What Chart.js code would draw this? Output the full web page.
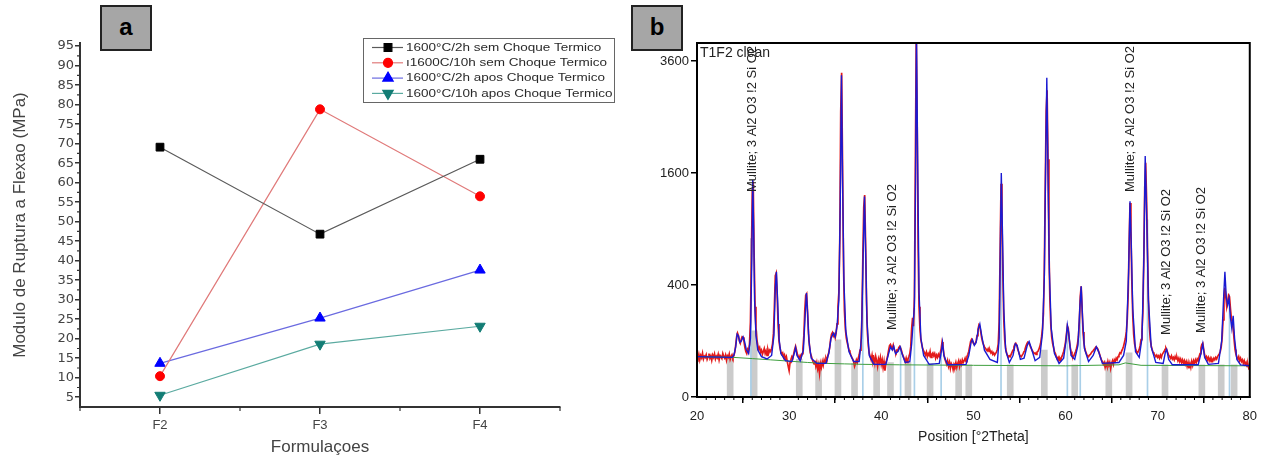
<!DOCTYPE html>
<html>
<head>
<meta charset="utf-8">
<script src="https://cdn.jsdelivr.net/npm/chart.js@4.4.1/dist/chart.umd.min.js"></script>
<style>
  html, body { margin: 0; padding: 0; background: #fff; }
  #page { position: relative; width: 1263px; height: 459px; overflow: hidden; background: #fff; }
  .panel { position: absolute; top: 0; height: 459px; }
  #panel-a { left: 0; width: 630px; }
  #panel-b { left: 630px; width: 633px; }
  .tag {
    position: absolute; top: 5px; width: 48px; height: 42px;
    background: #a6a6a6; border: 2px solid #222; color: #000;
    font: bold 24px 'Liberation Sans', Arial, sans-serif;
    text-align: center; line-height: 40px;
  }
  #tag-a { left: 100px; }
  #tag-b { left: 631px; }
</style>
</head>
<body>
<div id="page">
  <div class="panel" id="panel-a"><canvas id="chart-a"></canvas></div>
  <div class="panel" id="panel-b"><canvas id="chart-b"></canvas></div>
  <div class="tag" id="tag-a">a</div>
  <div class="tag" id="tag-b">b</div>
</div>
<script>
/* ---------- panel a : flexural strength per formulation ---------- */
const formulacoes = ['F2', 'F3', 'F4'];
const sem2h = [69.1, 46.8, 66.0];
const sem10h = [10.4, 78.8, 56.5];
const apos2h = [13.7, 25.3, 37.6];
const apos10h = [5.5, 18.6, 23.2];
const yTicksA = [5, 10, 15, 20, 25, 30, 35, 40, 45, 50, 55, 60, 65, 70, 75, 80, 85, 90, 95];
const yMinorA = [7.5, 12.5, 17.5, 22.5, 27.5, 32.5, 37.5, 42.5, 47.5, 52.5, 57.5, 62.5, 67.5, 72.5, 77.5, 82.5, 87.5, 92.5];
const xMinorA = [-0.5, 0.5, 1.5, 2.5];
const seriesNamesA = [
    '1600°C/2h sem Choque Termico',
    'ı1600C/10h sem Choque Termico',
    '1600°C/2h apos Choque Termico',
    '1600°C/10h apos Choque Termico'
];

/* ---------- panel b : XRD pattern, T1F2 clean ---------- */
// observed counts, 20.0 .. 80.0 °2Theta in 0.1° steps (one row per degree)
const obsStart = 20;
const obsStep = 0.1;
const obsCounts = [
    52,47,58,44,55,49,61,46,53,50,
    57,45,51,60,48,54,43,56,50,59,
    46,53,49,58,44,55,51,47,60,52,
    48,56,43,54,50,59,45,52,57,49,
    55,64,85,115,130,120,100,92,105,116,
    114,98,78,66,60,72,66,90,180,600,
    1350,1480,650,260,150,105,85,72,78,64,
    70,58,66,75,60,68,55,72,62,70,
    66,75,90,130,260,470,490,330,170,100,
    78,66,58,62,50,56,46,52,40,30,
    22,38,45,52,48,60,72,82,70,58,
    52,48,55,50,60,75,120,240,330,340,
    230,130,85,62,54,46,40,35,42,30,
    38,25,33,18,36,28,40,32,44,38,
    48,42,55,62,78,105,125,132,118,125,
    112,130,170,260,350,800,2600,3350,1700,560,
    240,150,112,95,82,70,64,56,50,46,
    40,30,36,44,38,48,56,70,95,200,
    620,1150,1300,750,290,130,82,60,52,44,
    56,40,48,36,52,42,30,46,38,50,
    34,44,28,40,22,36,45,55,70,84,
    88,80,76,86,72,66,62,70,68,78,
    82,76,68,58,52,46,40,48,38,46,
    52,60,80,150,200,160,320,1700,4200,2400,
    720,260,145,105,88,74,68,62,56,64,
    52,60,55,66,50,58,62,54,60,48,
    56,50,58,52,62,74,96,82,58,46,
    40,34,42,30,38,26,36,32,24,34,
    30,38,28,36,42,30,40,34,44,38,
    42,48,40,52,58,66,82,98,106,100,
    92,88,92,100,120,145,165,158,135,112,
    96,88,80,76,72,68,74,66,70,62,
    66,58,62,56,60,64,72,90,180,650,
    1450,1000,480,190,105,75,62,55,50,54,
    52,58,64,70,80,88,92,86,74,66,
    58,54,52,56,60,66,72,82,90,96,
    94,88,80,74,68,64,60,62,58,64,
    66,72,80,92,115,150,220,520,1400,2600,
    3000,1800,720,310,170,115,92,78,66,60,
    52,46,50,42,48,44,52,58,66,78,
    96,125,160,150,105,80,66,56,50,54,
    60,66,76,90,115,180,320,390,250,135,
    92,74,64,58,54,52,56,58,62,66,
    68,72,76,80,78,74,66,58,50,44,
    40,34,38,28,36,30,40,32,38,26,
    36,42,34,44,40,48,44,52,56,62,
    60,68,74,82,95,110,135,190,330,720,
    1200,880,420,210,125,90,76,66,62,66,
    72,84,105,140,230,620,1400,1750,1250,680,
    300,160,105,84,72,64,60,56,52,56,
    50,54,48,56,50,58,62,66,72,76,
    70,62,56,52,48,54,46,50,44,52,
    46,50,42,48,40,46,38,44,36,42,
    34,40,30,38,26,36,28,40,32,42,
    36,44,38,46,42,52,60,76,88,92,
    72,56,48,52,44,50,42,48,40,46,
    42,48,44,50,46,52,56,60,66,80,
    110,190,300,380,320,260,290,330,320,250,
    200,175,150,105,72,58,50,46,52,42,
    48,40,44,36,42,34,38,30,34,26,
    28
];

// calculated profile [°2Theta, counts]
const calcProfile = [
    [20,52],[23.8,50],[24.0,55],[24.2,80],[24.35,125],[24.5,118],[24.65,95],[24.8,100],[25.0,115],
    [25.15,100],[25.35,72],[25.6,60],[25.8,110],[25.95,600],[26.05,1500],[26.15,900],[26.25,300],
    [26.4,120],[26.6,70],[27.0,52],[27.6,46],[28.1,55],[28.35,120],[28.5,380],[28.62,500],[28.75,300],
    [28.9,110],[29.1,60],[29.6,42],[30.3,40],[30.55,60],[30.7,78],[30.85,55],[31.2,42],[31.55,70],
    [31.75,220],[31.88,345],[32.0,230],[32.15,100],[32.4,48],[33.0,36],[34.0,36],[34.3,60],[34.55,110],
    [34.8,130],[35.0,115],[35.2,160],[35.4,300],[35.55,1200],[35.68,3300],[35.8,1500],[35.95,420],
    [36.15,140],[36.5,65],[37.0,40],[37.6,40],[37.85,110],[38.05,700],[38.18,1280],[38.3,700],
    [38.45,180],[38.7,55],[39.2,34],[40.5,34],[40.8,60],[41.0,80],[41.2,70],[41.35,82],[41.55,60],
    [41.8,66],[42.05,80],[42.25,60],[42.6,38],[43.1,40],[43.3,90],[43.45,170],[43.6,260],[43.72,1500],
    [43.82,4300],[43.95,1800],[44.1,350],[44.3,110],[44.6,55],[45.2,34],[46.3,36],[46.55,70],[46.65,95],
    [46.8,55],[47.2,33],[49.2,34],[49.5,55],[49.75,95],[49.9,105],[50.1,85],[50.3,95],[50.55,150],
    [50.7,170],[50.9,120],[51.2,70],[51.8,45],[52.6,38],[52.8,110],[52.95,900],[53.03,1600],[53.15,900],
    [53.3,250],[53.5,70],[53.9,38],[54.3,55],[54.55,90],[54.75,85],[55.1,45],[55.5,48],[55.85,85],
    [56.05,98],[56.3,75],[56.7,42],[57.2,50],[57.5,130],[57.7,450],[57.85,1800],[57.97,3250],[58.1,1600],
    [58.25,500],[58.45,150],[58.8,60],[59.3,36],[59.8,48],[60.05,100],[60.2,165],[60.35,130],[60.6,55],
    [61.0,45],[61.35,85],[61.55,250],[61.7,390],[61.85,200],[62.05,75],[62.5,40],[63.0,55],[63.35,80],
    [63.6,65],[64.0,36],[65.8,38],[66.3,55],[66.6,100],[66.85,500],[67.0,1220],[67.12,800],[67.3,250],
    [67.6,65],[68.0,50],[68.3,110],[68.5,600],[68.65,1850],[68.8,1100],[69.0,300],[69.3,80],[69.8,38],
    [70.6,36],[70.85,65],[70.98,72],[71.2,45],[71.6,33],[74.4,33],[74.7,60],[74.9,90],[75.1,50],
    [75.5,34],[76.6,36],[76.95,100],[77.15,300],[77.3,500],[77.45,320],[77.6,270],[77.75,310],[77.9,200],
    [78.05,150],[78.2,210],[78.35,110],[78.6,45],[79.0,33],[80,31]
];

// background line [°2Theta, counts]
const backgroundLine = [
    [20,52],[24,50],[26,47],[28,44],[30,41],[32,38],[34,36],[36,35],[38,34],[42,33],
    [50,32],[60,31],[65.8,33],[66.5,37],[68.2,32],[80,31]
];

// reference pattern sticks
const refPos = [23.6, 26.2, 31.1, 33.2, 35.3, 37.1, 39.5, 41.0, 42.9, 45.3, 48.4, 49.5, 54.0, 57.7, 61.0, 64.7, 66.9, 70.8, 74.8, 76.9, 78.3];
const refHeight = [48, 140, 45, 30, 104, 36, 36, 38, 38, 36, 33, 33, 33, 70, 33, 33, 62, 33, 33, 33, 33];
const refLinePos = [25.85, 38.0, 42.1, 43.6, 46.5, 53.0, 60.2, 61.6, 68.9, 77.8];
const refLineHeight = [800, 700, 80, 250, 60, 1200, 140, 300, 1000, 300];

const xTicksB = [20, 30, 40, 50, 60, 70, 80];
const yTicksB = [0, 400, 1600, 3600];

const phaseLabel = 'Mullite; 3 Al2 O3 !2 Si O2';
const phaseLabelX = [26.05, 41.2, 67.0, 70.9, 74.7];
const phaseLabelY = [1340, 143, 1340, 123, 131];

const FONT = "'Liberation Sans', Arial, sans-serif";
Chart.defaults.font.family = FONT;

/* ---------- small plugins ---------- */
// Extra short ticks between the labelled ones
const minorTicksPlugin = {
    id: 'minorTicks',
    afterDraw(chart, args, opts) {
        const ctx = chart.ctx;
        const area = chart.chartArea;
        (opts.sets || []).forEach(set => {
            const scale = chart.scales[set.axis];
            ctx.save();
            ctx.strokeStyle = set.color;
            ctx.lineWidth = set.width || 1;
            ctx.beginPath();
            set.values.forEach(v => {
                const p = scale.getPixelForValue(v);
                if (scale.isHorizontal()) {
                    ctx.moveTo(p, area.bottom);
                    ctx.lineTo(p, area.bottom + set.length);
                } else {
                    ctx.moveTo(area.left, p);
                    ctx.lineTo(area.left - set.length, p);
                }
            });
            ctx.stroke();
            ctx.restore();
        });
    }
};

function stretchedText(ctx, text, x, y, sx) {
    ctx.save();
    ctx.translate(x, y);
    ctx.scale(sx, 1);
    ctx.fillText(text, 0, 0);
    ctx.restore();
}

// Boxed legend placed inside the plot, built from the datasets
const legendBoxPlugin = {
    id: 'legendBox',
    afterDraw(chart, args, opts) {
        if (!opts.display) return;
        const ctx = chart.ctx;
        ctx.save();
        ctx.strokeStyle = '#666';
        ctx.lineWidth = 1;
        ctx.strokeRect(opts.x + 0.5, opts.y + 0.5, opts.w, opts.h);
        ctx.font = `${opts.fontSize}px ${FONT}`;
        ctx.textBaseline = 'middle';
        chart.data.datasets.forEach((ds, i) => {
            const y = opts.y + opts.first + i * opts.gap;
            ctx.strokeStyle = ds.borderColor;
            ctx.lineWidth = 1.2;
            ctx.beginPath();
            ctx.moveTo(opts.x + 9, y);
            ctx.lineTo(opts.x + 40, y);
            ctx.stroke();
            ctx.fillStyle = ds.pointBackgroundColor;
            ctx.strokeStyle = ds.pointBackgroundColor;
            Chart.helpers.drawPoint(ctx, {
                pointStyle: ds.pointStyle,
                rotation: ds.pointRotation || 0,
                radius: ds.pointRadius,
                borderWidth: 1
            }, opts.x + 25, y);
            ctx.fillStyle = '#2a2a2a';
            stretchedText(ctx, ds.label, opts.x + 43, y + 0.5, opts.stretch);
        });
        ctx.restore();
    }
};

// Closed frame around the plot area
const frameBoxPlugin = {
    id: 'frameBox',
    afterDraw(chart, args, opts) {
        if (!opts.display) return;
        const {left, top, right, bottom} = chart.chartArea;
        const ctx = chart.ctx;
        ctx.save();
        ctx.strokeStyle = '#000';
        ctx.lineWidth = 2;
        ctx.strokeRect(left, top, right - left, bottom - top);
        ctx.restore();
    }
};

// Sample name and rotated phase labels
const phaseTextPlugin = {
    id: 'phaseText',
    afterDatasetsDraw(chart, args, opts) {
        if (!opts.display) return;
        const ctx = chart.ctx;
        const xs = chart.scales.x, ys = chart.scales.y;
        ctx.save();
        ctx.fillStyle = '#222';
        ctx.font = `14px ${FONT}`;
        ctx.textBaseline = 'top';
        ctx.fillText(opts.sample, chart.chartArea.left + 3, chart.chartArea.top + 3);
        ctx.font = `13px ${FONT}`;
        ctx.textBaseline = 'middle';
        ctx.textAlign = 'left';
        opts.xs.forEach((v, i) => {
            const px = xs.getPixelForValue(v);
            const py = ys.getPixelForValue(Math.sqrt(opts.ys[i]));
            ctx.save();
            ctx.translate(px, py);
            ctx.rotate(-Math.PI / 2);
            ctx.fillText(opts.text, 0, 0);
            ctx.restore();
        });
        ctx.restore();
    }
};

Chart.register(minorTicksPlugin, legendBoxPlugin, frameBoxPlugin, phaseTextPlugin);

/* ---------- chart a ---------- */
function renderStrengthChart() {
    const ctx = document.getElementById('chart-a').getContext('2d');
    const makeSeries = (label, values, line, mark, style, radius, rotation) => ({
        label,
        data: values,
        borderColor: line,
        borderWidth: 1.2,
        pointBackgroundColor: mark,
        pointBorderColor: mark,
        pointBorderWidth: 1,
        pointStyle: style,
        pointRadius: radius,
        pointRotation: rotation,
        tension: 0
    });

    new Chart(ctx, {
        type: 'line',
        data: {
            labels: formulacoes,
            datasets: [
                makeSeries(seriesNamesA[0], sem2h, '#5a5a5a', '#000000', 'rect', 5.5, 0),
                makeSeries(seriesNamesA[1], sem10h, '#e07a7a', '#ff0000', 'circle', 4.5, 0),
                makeSeries(seriesNamesA[2], apos2h, '#6a6ae0', '#0000ff', 'triangle', 6, 0),
                makeSeries(seriesNamesA[3], apos10h, '#5aaaa0', '#137d75', 'triangle', 6, 180)
            ]
        },
        options: {
            responsive: true,
            maintainAspectRatio: false,
            animation: false,
            layout: { padding: { left: 0, top: 43, right: 70, bottom: 0 } },
            scales: {
                x: {
                    type: 'category',
                    offset: true,
                    grid: { drawOnChartArea: false, offset: false, tickLength: 7, color: '#333', lineWidth: 1.5 },
                    border: { display: true, color: '#333', width: 2 },
                    ticks: { color: '#444', font: { size: 13 }, padding: 4 },
                    title: {
                        display: true, text: 'Formulaçoes', color: '#444',
                        font: { size: 17 }, padding: { top: 0, bottom: 1 }
                    },
                    afterFit: s => { s.height = 52; }
                },
                y: {
                    min: 2.5,
                    max: 95.8,
                    afterBuildTicks: s => { s.ticks = yTicksA.map(v => ({ value: v })); },
                    grid: { drawOnChartArea: false, tickLength: 5, color: '#333', lineWidth: 1.5 },
                    border: { display: true, color: '#333', width: 2 },
                    ticks: { color: '#444', font: { size: 13, family: "'DejaVu Sans', sans-serif" }, padding: 1 },
                    title: {
                        display: true, text: 'Modulo de Ruptura a Flexao (MPa)', color: '#444',
                        font: { size: 17 }, padding: { top: 10, bottom: 0 }
                    },
                    afterFit: s => { s.width = 80; }
                }
            },
            plugins: {
                legend: { display: false },
                tooltip: { enabled: false },
                minorTicks: {
                    sets: [
                        { axis: 'y', values: yMinorA, length: 3, color: '#333', width: 1.2 },
                        { axis: 'x', values: xMinorA, length: 4, color: '#333', width: 1.2 }
                    ]
                },
                legendBox: {
                    display: true, x: 363, y: 38, w: 251, h: 64,
                    first: 9.5, gap: 15.3, fontSize: 10, stretch: 1.35
                },
                frameBox: { display: false },
                phaseText: { display: false }
            }
        }
    });
}

/* ---------- chart b ---------- */
function renderXrdChart() {
    const ctx = document.getElementById('chart-b').getContext('2d');
    const observed = obsCounts.map((c, i) => ({ x: obsStart + i * obsStep, y: Math.sqrt(c) }));
    const calculated = calcProfile.map(p => ({ x: p[0], y: Math.sqrt(p[1]) }));
    const background = backgroundLine.map(p => ({ x: p[0], y: Math.sqrt(p[1]) }));
    const sticks = refPos.map((x, i) => ({ x, y: Math.sqrt(refHeight[i]) }));
    const thinSticks = refLinePos.map((x, i) => ({ x, y: Math.sqrt(refLineHeight[i]) }));

    const minorX = [];
    for (let t = 21; t < 80; t++) if (t % 10 !== 0) minorX.push(t);

    new Chart(ctx, {
        type: 'line',
        data: {
            datasets: [
                { label: 'Calculated', data: calculated, borderColor: '#1a1ad2', borderWidth: 1.4, pointRadius: 0, tension: 0, order: 0 },
                { label: 'Background', data: background, borderColor: '#3f9f3f', borderWidth: 1, pointRadius: 0, tension: 0, order: 1 },
                { label: 'Observed', data: observed, borderColor: '#e31a1a', borderWidth: 1.7, pointRadius: 0, tension: 0, order: 2 },
                { type: 'bar', label: 'Reference', data: thinSticks, backgroundColor: '#a9cfe8', barThickness: 1, grouped: false, order: 3 },
                { type: 'bar', label: 'Mullite', data: sticks, backgroundColor: 'rgba(190,190,190,0.8)', barThickness: 6, grouped: false, order: 4 }
            ]
        },
        options: {
            responsive: true,
            maintainAspectRatio: false,
            animation: false,
            layout: { padding: { left: 0, top: 43, right: 11, bottom: 0 } },
            scales: {
                x: {
                    type: 'linear',
                    min: 20,
                    max: 80,
                    offset: false,
                    afterBuildTicks: s => { s.ticks = xTicksB.map(v => ({ value: v })); },
                    grid: { drawOnChartArea: false, tickLength: 6, color: '#000', lineWidth: 1.5 },
                    border: { display: true, color: '#000', width: 2 },
                    ticks: { color: '#222', font: { size: 13 }, padding: 6 },
                    title: {
                        display: true, text: 'Position [°2Theta]', color: '#222',
                        font: { size: 14 }, padding: { top: 0, bottom: 13 }
                    },
                    afterFit: s => { s.height = 62; }
                },
                y: {
                    min: 0,
                    max: 63.2,
                    afterBuildTicks: s => { s.ticks = yTicksB.map(v => ({ value: Math.sqrt(v) })); },
                    grid: { drawOnChartArea: false, tickLength: 6, color: '#000', lineWidth: 1.5 },
                    border: { display: true, color: '#000', width: 2 },
                    ticks: {
                        color: '#222', font: { size: 13 }, padding: 2,
                        callback: v => String(Math.round(v * v))
                    },
                    afterFit: s => { s.width = 67; }
                }
            },
            plugins: {
                legend: { display: false },
                tooltip: { enabled: false },
                minorTicks: {
                    sets: [{ axis: 'x', values: minorX, length: 3, color: '#000', width: 1 }]
                },
                legendBox: { display: false },
                frameBox: { display: true },
                phaseText: {
                    display: true, sample: 'T1F2 clean', text: phaseLabel,
                    xs: phaseLabelX, ys: phaseLabelY
                }
            }
        }
    });
}

renderStrengthChart();
renderXrdChart();
</script>
</body>
</html>
